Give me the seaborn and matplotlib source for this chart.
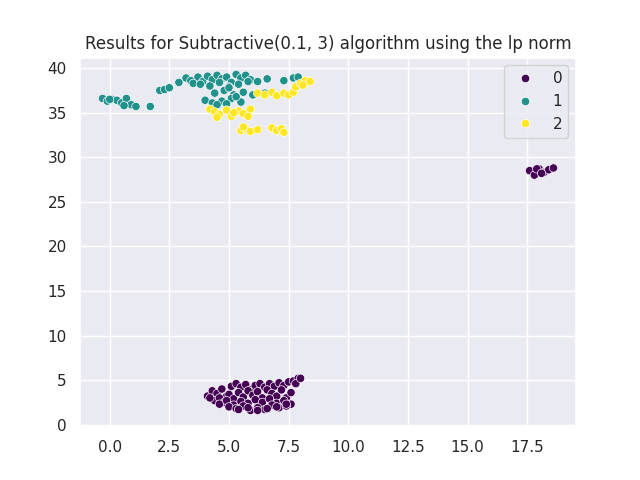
import pandas as pd
import seaborn as sns
import matplotlib
matplotlib.use("Agg")
import matplotlib.pyplot as plt

# cluster 0: bottom blob + small blob on the right
x0 = [4.1, 4.3, 4.5, 4.7, 4.9, 5.1, 5.3, 5.5, 5.7, 5.9, 6.1, 6.3, 6.5, 6.7, 6.9, 7.1, 7.3, 7.5, 7.7, 7.9,
      4.4, 4.6, 4.8, 5.0, 5.2, 5.4, 5.6, 5.8, 6.0, 6.2, 6.4, 6.6, 6.8, 7.0, 7.2, 7.4, 7.6,
      4.6, 4.9, 5.2, 5.5, 5.8, 6.1, 6.4, 6.7, 7.0, 7.3, 7.6,
      5.0, 5.3, 5.6, 5.9, 6.2, 6.5, 6.8, 7.1, 7.4,
      5.4, 5.8, 6.2, 6.6, 7.0, 7.4, 4.2, 7.8, 8.0,
      17.6, 17.8, 18.0, 18.2, 18.4, 18.6, 17.9, 18.1]
y0 = [3.2, 3.8, 3.5, 4.0, 3.2, 4.3, 4.6, 4.2, 4.5, 3.9, 4.4, 4.6, 4.2, 4.6, 4.3, 4.7, 4.4, 4.8, 4.9, 5.2,
      2.7, 3.0, 2.5, 3.4, 2.9, 3.6, 3.1, 3.8, 3.3, 3.7, 3.0, 3.9, 3.5, 3.2, 3.9, 3.0, 3.6,
      2.3, 2.7, 2.2, 2.6, 2.4, 2.8, 2.5, 2.9, 2.4, 2.7, 2.3,
      2.0, 1.8, 2.1, 1.6, 1.9, 1.7, 2.2, 1.9, 2.1,
      1.7, 1.9, 1.6, 1.8, 2.0, 2.3, 3.0, 4.6, 5.2,
      28.5, 28.0, 28.7, 28.3, 28.6, 28.8, 28.7, 28.2]

# cluster 1: teal top-left group
x1 = [-0.3, -0.1, 0.1, 0.3, 0.5, 0.7, 0.9, 1.1, 0.0, 0.6, 1.7, 2.1, 2.3, 2.5,
      2.9, 3.2, 3.4, 3.7, 3.9, 4.1, 4.3, 4.5, 4.7, 4.9, 5.1, 5.3, 5.5, 5.7, 5.9,
      3.5, 3.8, 4.2, 4.6, 5.0, 5.4, 5.8, 4.4, 4.8, 5.2, 5.6, 4.0, 4.3, 4.7, 5.1, 5.5,
      4.5, 4.9, 5.3, 5.0, 6.0, 6.2, 6.5, 6.6, 7.3, 7.7, 7.9]
y1 = [36.6, 36.3, 36.5, 36.4, 36.1, 36.6, 35.9, 35.7, 36.5, 35.8, 35.7, 37.5, 37.6, 37.8,
      38.4, 38.9, 38.6, 39.0, 38.5, 39.1, 38.7, 39.2, 38.8, 39.0, 38.4, 39.3, 38.9, 39.2, 38.7,
      38.3, 38.2, 38.0, 38.4, 37.9, 38.2, 38.5, 37.2, 37.5, 37.0, 37.3, 36.4, 36.1, 36.3, 36.6, 36.2,
      35.9, 36.0, 36.8, 37.8, 37.0, 38.5, 37.2, 38.8, 38.6, 38.9, 39.0]

# cluster 2: yellow group under and right of the teal one
x2 = [4.2, 4.4, 4.6, 4.9, 5.1, 5.4, 5.6, 5.9, 4.5, 5.2, 5.8,
      5.5, 5.7, 5.9, 6.2, 5.6, 6.8, 7.0, 7.2, 7.3,
      6.2, 6.5, 6.8, 7.0, 7.3, 7.5, 7.7, 7.8, 8.0, 8.2, 8.4, 8.1]
y2 = [35.4, 35.1, 34.8, 35.3, 34.6, 35.2, 34.9, 35.4, 34.5, 35.0, 34.6,
      33.0, 33.2, 32.9, 33.1, 33.4, 33.3, 33.0, 33.2, 32.8,
      37.2, 37.0, 37.3, 36.9, 37.2, 37.0, 37.3, 37.9, 38.3, 38.6, 38.5, 38.1]

df = pd.DataFrame({
    "x": x0 + x1 + x2,
    "y": y0 + y1 + y2,
    "label": [0] * len(x0) + [1] * len(x1) + [2] * len(x2),
})

sns.set_theme()
fig, ax = plt.subplots(figsize=(6.4, 4.8), dpi=100)
sns.scatterplot(data=df, x="x", y="y", hue="label", palette="viridis", ax=ax)
ax.set_title("Results for Subtractive(0.1, 3) algorithm using the lp norm")
ax.set_xlabel("")
ax.set_ylabel("")
ax.legend(title=None, loc="upper right")
fig.savefig("out.png")
